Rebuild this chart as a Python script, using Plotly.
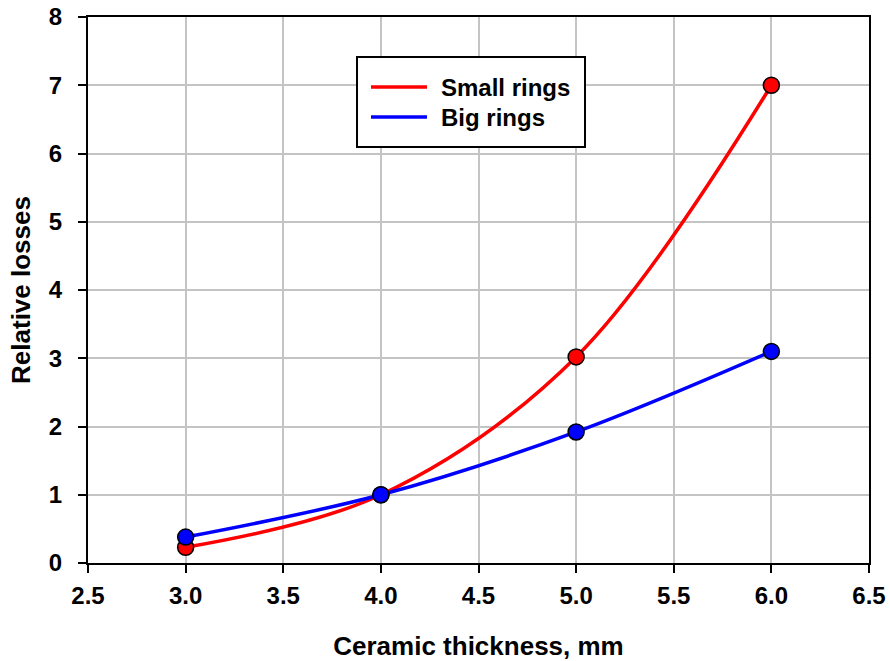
import plotly.graph_objects as go

thickness = [3.0, 4.0, 5.0, 6.0]
small_rings = [0.23, 1.0, 3.02, 7.0]
big_rings = [0.38, 1.0, 1.92, 3.1]
series_names = ["Small rings", "Big rings"]
series_colors = ["#ff0000", "#0000ff"]

FONT = "Liberation Sans, Arial, sans-serif"

# plot-area geometry in pixels (for converting the legend box to paper coords)
W, H = 890, 661
ML, MR, MT, MB = 88, 21, 17, 98
PW, PH = W - ML - MR, H - MT - MB


def px_x(p):
    return (p - ML) / PW


def px_y(p):
    return (H - MB - p) / PH


fig = go.Figure()
for name, ys, col in zip(series_names, [small_rings, big_rings], series_colors):
    fig.add_trace(go.Scatter(x=thickness, y=ys, mode="lines", name=name, showlegend=False,
                             line=dict(color=col, width=3.5, shape="spline", smoothing=1.0)))
for name, ys, col in zip(series_names, [small_rings, big_rings], series_colors):
    fig.add_trace(go.Scatter(x=thickness, y=ys, mode="markers", showlegend=False, name=name,
                             marker=dict(color=col, size=16, line=dict(color="black", width=1.5))))

axis_common = dict(showline=True, linecolor="black", linewidth=2, mirror=True,
                   showgrid=True, gridcolor="#c4c4c4", gridwidth=1.5,
                   ticks="outside", ticklen=8, tickwidth=2, tickcolor="black",
                   zeroline=False,
                   tickfont=dict(family=FONT, size=24, color="black", weight="bold"))

# custom legend: box, line samples, labels
shapes = [dict(type="rect", xref="paper", yref="paper",
               x0=px_x(357), x1=px_x(585), y0=px_y(147), y1=px_y(57),
               fillcolor="white", line=dict(color="black", width=2), layer="above")]
annotations = []
for i, (name, col) in enumerate(zip(series_names, series_colors)):
    yc = 87 + 30 * i
    shapes.append(dict(type="line", xref="paper", yref="paper",
                       x0=px_x(371), x1=px_x(427), y0=px_y(yc), y1=px_y(yc),
                       line=dict(color=col, width=3.5), layer="above"))
    annotations.append(dict(text=name, xref="paper", yref="paper", x=px_x(439), y=px_y(yc),
                            xanchor="left", yanchor="middle", showarrow=False,
                            font=dict(family=FONT, size=24, color="black", weight="bold")))

fig.update_layout(
    width=W, height=H,
    margin=dict(l=ML, r=MR, t=MT, b=MB),
    paper_bgcolor="white", plot_bgcolor="white",
    font=dict(family=FONT, color="black"),
    xaxis=dict(range=[2.5, 6.5], dtick=0.5, tick0=2.5, tickformat=".1f",
               ticklabelstandoff=2,
               title=dict(text="Ceramic thickness, mm", standoff=30,
                          font=dict(family=FONT, size=26, color="black", weight="bold")),
               **axis_common),
    yaxis=dict(range=[0, 8], dtick=1, ticklabelstandoff=11,
               title=dict(text="Relative losses", standoff=11,
                          font=dict(family=FONT, size=26, color="black", weight="bold")),
               **axis_common),
    shapes=shapes,
    annotations=annotations,
    showlegend=False,
)
fig.update_xaxes(automargin=False)
fig.update_yaxes(automargin=False)

fig.write_html("out.html")
